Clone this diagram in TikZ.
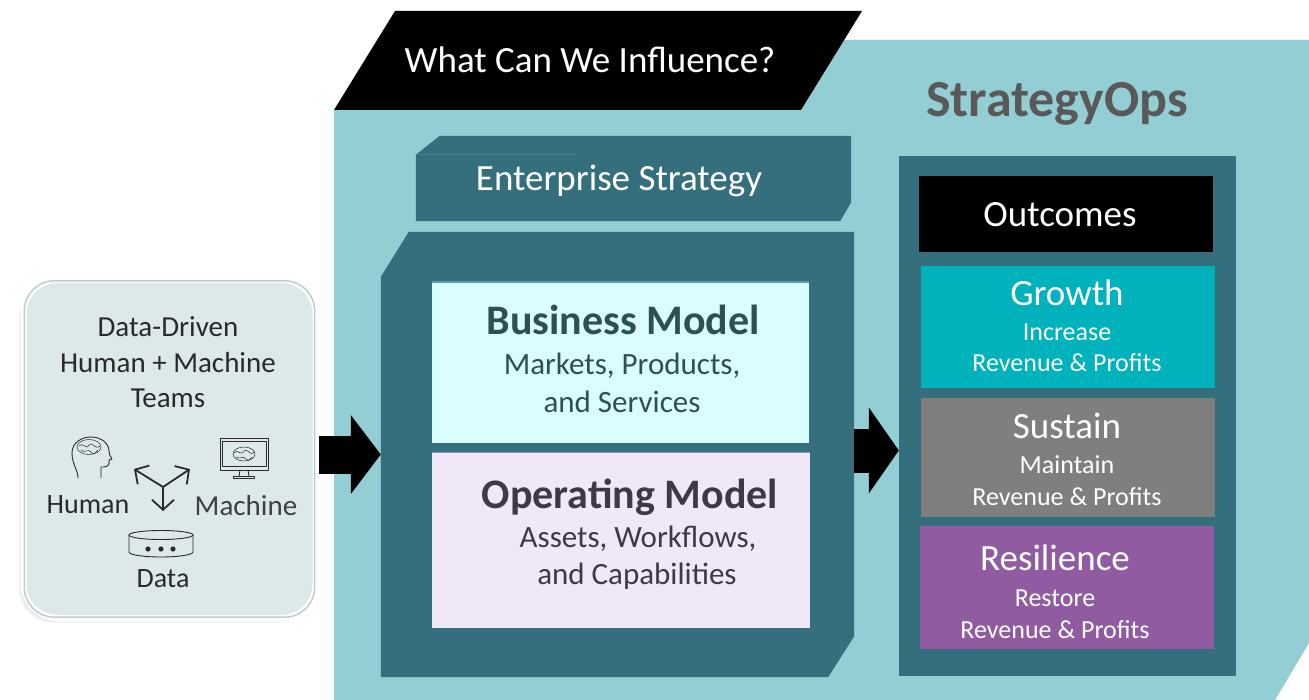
\documentclass[tikz,border=0pt]{standalone}
\usepackage{fontspec}
\setmainfont{Carlito}
\usetikzlibrary{arrows.meta,calc,shadows}

\definecolor{skyteal}{HTML}{93CED5}
\definecolor{darkteal}{HTML}{356F7D}
\definecolor{entline}{HTML}{43808F}
\definecolor{panelfill}{HTML}{DCE8EA}
\definecolor{paneledge}{HTML}{BCCDD0}
\definecolor{bizfill}{HTML}{DAFDFD}
\definecolor{bizline}{HTML}{5A9FB0}
\definecolor{biztext}{HTML}{2F5050}
\definecolor{opfill}{HTML}{F0E8F8}
\definecolor{opline}{HTML}{9090B0}
\definecolor{optext}{HTML}{3F3848}
\definecolor{titlegray}{HTML}{595959}
\definecolor{growthc}{HTML}{00B2BB}
\definecolor{sustainc}{HTML}{7F7F7F}
\definecolor{resilc}{HTML}{915BA1}
\definecolor{iconc}{HTML}{2A2A2A}

\tikzset{
  txt/.style={font=\fontsize{#1pt}{#1pt}\selectfont, anchor=base, inner sep=0pt},
  btxt/.style={txt=#1, font=\fontsize{#1pt}{#1pt}\selectfont\bfseries},
  box/.style={fill=#1, inner sep=0pt},
  blockarrow/.style 2 args={draw=black, line width=#1,
    -{Triangle[length=30pt,width=#2,line width=0pt]}},
  icon/.style={draw=iconc, line width=0.9pt, line cap=round, line join=round},
  thin icon/.style={icon, line width=0.5pt},
}

\begin{document}
\begin{tikzpicture}[x=1pt,y=-1pt]
\useasboundingbox (0,0) rectangle (1309,700);
\fill[white] (0,0) rectangle (1309,700);

% light teal background
\fill[skyteal] (334,110) -- (801,110) -- (844,40) -- (1309,40) -- (1309,643)
  -- (1275,700) -- (334,700) -- cycle;

% banner
\fill[black] (395,11) -- (862,11) -- (801,110) -- (334,110) -- cycle;
\node[txt=37, white] (influence) at (590,73) {What Can We Influence?};

% title
\node[btxt=52, titlegray] (title) at (1057,117) {StrategyOps};

% enterprise strategy
\node[minimum width=435pt, minimum height=85pt, inner sep=0pt] (ent) at (633.5,178.5) {};
\fill[darkteal] ([xshift=24pt]ent.north west) -- (ent.north east) -- ([yshift=19pt]ent.south east)
  -- ([xshift=-11pt]ent.south east) -- (ent.south west) -- ([yshift=-19pt]ent.north west) -- cycle;
\draw[entline, line width=1pt] ([yshift=-19pt]ent.north west) -- ++(162,0);
\node[txt=37, white] (entT) at (619,191) {Enterprise Strategy};

% model container
\node[minimum width=473pt, minimum height=445pt, inner sep=0pt] (model) at (617.5,454.5) {};
\fill[darkteal] ([xshift=28pt]model.north west) -- (model.north east) -- ([yshift=41pt]model.south east)
  -- ([xshift=-26pt]model.south east) -- (model.south west) -- ([yshift=-45pt]model.north west) -- cycle;

% business model
\node[box=bizfill, minimum width=377pt, minimum height=161pt] (biz) at (620.5,362.5) {};
\draw[bizline, line width=1.5pt] (biz.north west) -- (biz.north east);
\node[btxt=42, biztext] (bizT) at (623,335) {Business Model};
\node[txt=31, biztext] (bizA) at (622,375) {Markets, Products,};
\node[txt=31, biztext] (bizB) at (622,413) {and Services};

% operating model
\node[box=opfill, minimum width=378pt, minimum height=175pt] (op) at (621,540.5) {};
\draw[opline, line width=1pt] (op.north west) -- (op.north east);
\node[btxt=42, optext] (opT) at (630,508) {Operating Model};
\node[txt=31, optext] (opA) at (638,547) {Assets, Workflows,};
\node[txt=31, optext] (opB) at (637,584) {and Capabilities};

% outcomes container
\node[box=darkteal, minimum width=337pt, minimum height=520pt] (opsbox) at (1067.5,416) {};
\node[box=black, minimum width=294pt, minimum height=76pt] (outc) at (1066,214) {};
\node[txt=37, white] (outcT) at (1060,227) {Outcomes};

\node[box=growthc, minimum width=294pt, minimum height=122pt] (growth) at (1068,327) {};
\node[txt=37, white] (growthT) at (1067,306) {Growth};
\node[txt=26, white] (growthA) at (1067,341) {Increase};
\node[txt=26, white] (growthB) at (1067,372) {Revenue \& Profits};

\node[box=sustainc, minimum width=294pt, minimum height=119pt] (sustain) at (1068,457.5) {};
\node[txt=37, white] (sustainT) at (1067,438) {Sustain};
\node[txt=26, white] (sustainA) at (1067,473) {Maintain};
\node[txt=26, white] (sustainB) at (1067,505) {Revenue \& Profits};

\node[box=resilc, minimum width=294pt, minimum height=123pt] (resil) at (1067,587.5) {};
\node[txt=37, white] (resilT) at (1055,570) {Resilience};
\node[txt=26, white] (resilA) at (1055,606) {Restore};
\node[txt=26, white] (resilB) at (1055,638) {Revenue \& Profits};

% teams panel
\node[fill=panelfill, draw=white, line width=6pt, rounded corners=34pt,
  minimum width=292pt, minimum height=338pt, inner sep=0pt,
  drop shadow={shadow xshift=-4.5pt, shadow yshift=-4.5pt, opacity=.12},
  drop shadow={shadow xshift=-2.5pt, shadow yshift=-2.5pt, opacity=.22}] (panel) at (169.5,449) {};
\draw[paneledge, line width=1.5pt, rounded corners=30pt]
  ($(panel.north west)+(3.8,3.8)$) rectangle ($(panel.south east)+(-3.8,-3.8)$);
\node[txt=29, iconc] (teamsA) at (168,337) {Data-Driven};
\node[txt=29, iconc] (teamsB) at (168,373) {Human + Machine};
\node[txt=29, iconc] (teamsC) at (168,407) {Teams};
\node[txt=28, iconc] (human) at (88,513) {Human};
\node[txt=29, black!75] (machine) at (246,515) {Machine};
\node[txt=28, iconc] (data) at (163,587) {Data};

% head icon
\draw[icon] (78,478) .. controls (78,470) and (72,464) .. (72,453)
  .. controls (72,443) and (81,437) .. (91,437) .. controls (102,437) and (109,444) .. (109,451)
  .. controls (109,454) and (110,456) .. (112,459) .. controls (111,460) .. (109,460)
  .. controls (110,464) and (108,467) .. (104,467) -- (101,467) -- (101,478);
\draw[thin icon] (89,447) ellipse [x radius=12, y radius=7.5];
\draw[thin icon] (79,446) .. controls (83,441) and (86,451) .. (89,445) .. controls (92,440) and (95,451) .. (100,446);
\draw[thin icon] (81,450) .. controls (85,454) and (88,448) .. (91,452) .. controls (93,455) .. (98,450);

% monitor icon
\draw[icon] (220,438) rectangle (268,470);
\draw[thin icon] (222,441) rectangle (266,466);
\draw[icon] (240,470) -- (239,476) (248,470) -- (249,476);
\draw[icon] (233,476) rectangle (254,478);
\draw[thin icon] (244,454) ellipse [x radius=11, y radius=7];
\draw[thin icon] (234,453) .. controls (238,448) and (241,457) .. (244,451) .. controls (247,447) and (250,457) .. (254,452);
\draw[thin icon] (236,457) .. controls (240,460) and (243,455) .. (246,459) .. controls (248,461) .. (252,457);

% triad arrows
\coordinate (hub) at (163,487);
\coordinate (toHuman) at (134,469);
\coordinate (toMachine) at (190,469);
\coordinate (toData) at (163,511);
\foreach \t in {toHuman,toMachine,toData}
  \draw[icon, line width=1.8pt, -{Straight Barb[length=10pt,width=22pt]}] (hub) -- (\t);

% data icon
\draw[icon] (129,535) -- (129,552) arc[start angle=180, end angle=0, x radius=32, y radius=5] -- (193,535);
\draw[icon] (161,535) ellipse [x radius=32, y radius=4.5];
\fill[iconc] (148,549) circle (2.6) (161,549) circle (2.6) (173,549) circle (2.6);

% block arrows
\draw[blockarrow={38pt}{79pt}] (panel.east |- model.west) -- (model.west);
\draw[blockarrow={44pt}{86pt}] ($(model.east)+(0,-4)$) -- ($(model.east -| opsbox.west)+(0,-4)$);
\end{tikzpicture}
\end{document}
